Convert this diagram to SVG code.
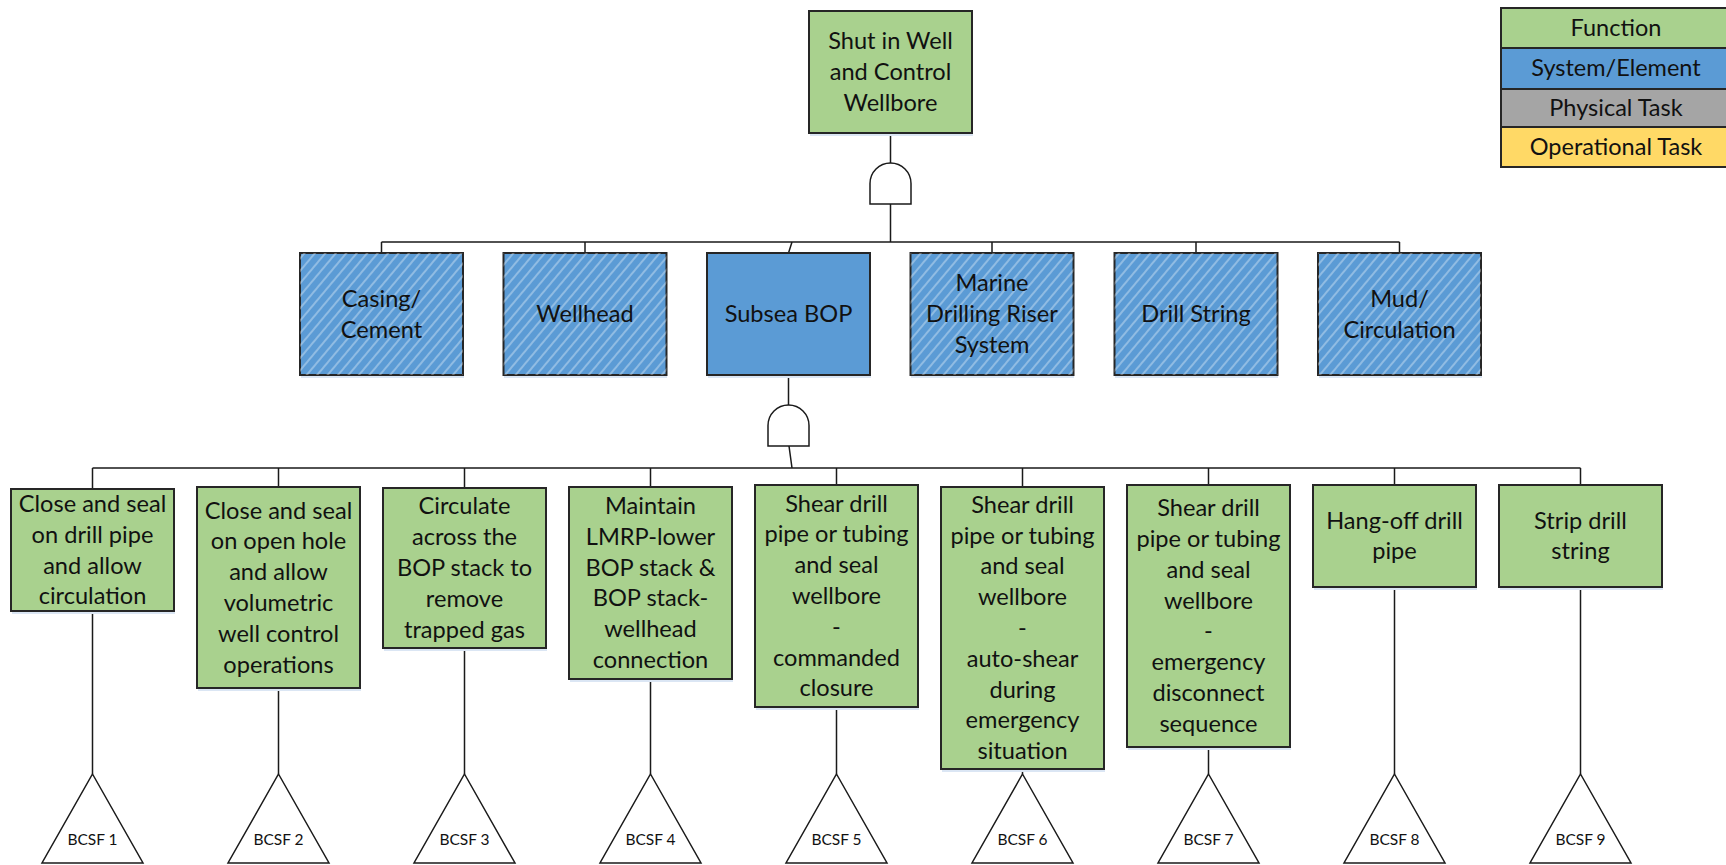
<svg xmlns="http://www.w3.org/2000/svg" width="1726" height="865" viewBox="0 0 1726 865">
<style>
.box{stroke:#262626;stroke-width:2}
.fn{fill:#A9D18E}
.sys{fill:#5B9BD5}
.hatch{fill:url(#hatch)}
.sh{fill:#dbe6f4}
.t{font-family:Lato,"Liberation Sans",sans-serif;font-size:23.6px;fill:#111;text-anchor:middle}
.lg{font-family:Lato,"Liberation Sans",sans-serif;font-size:23.5px;fill:#111;text-anchor:middle}
.tri{font-family:Lato,"Liberation Sans",sans-serif;font-size:15.5px;fill:#111;text-anchor:middle}
.ln{stroke:#1a1a1a;stroke-width:1.5;fill:none}
.gate{fill:#fff;stroke:#1a1a1a;stroke-width:1.5}
.trg{fill:#fff;stroke:#1a1a1a;stroke-width:1.5}
</style>
<defs>
<pattern id="hatch" width="8" height="8" patternUnits="userSpaceOnUse" patternTransform="rotate(40)">
<line x1="4" y1="0" x2="4" y2="8" stroke="#ffffff" stroke-opacity="0.5" stroke-width="1.3"/>
</pattern>
</defs>
<rect width="1726" height="865" fill="#fff"/>

<g id="connectors">
<path class="ln" d="M890.5,133 V163 M890.5,204 V242"/>
<path class="ln" d="M381.5,242 H1399.5 M381.5,242 V253 M585,242 V253 M792,242 L788.5,253 M992,242 V253 M1196,242 V253 M1399.5,242 V253"/>
<path class="ln" d="M788.5,375 V405 M789,446 L792,468"/>
<path class="ln" d="M92.5,468 H1580.5 M92.5,468 V489 M278.5,468 V487 M464.5,468 V488 M650.5,468 V487 M836.5,468 V485 M1022.5,468 V487 M1208.5,468 V485 M1394.5,468 V485 M1580.5,468 V485"/>
<path class="ln" d="M92.5,611 V774 M278.5,688 V774 M464.5,648 V774 M650.5,679 V774 M836.5,707 V774 M1022.5,769 V774 M1208.5,747 V774 M1394.5,587 V774 M1580.5,587 V774"/>
</g>

<g id="gate1"><path class="gate" d="M870,204 V183.5 A20.5,20.5 0 0 1 911,183.5 V204 Z"/></g>
<g id="gate2"><path class="gate" d="M768,446 V425.5 A20.5,20.5 0 0 1 809,425.5 V446 Z"/></g>

<g id="top">
<rect class="sh" x="810" y="13" width="163" height="123"/>
<rect class="box fn" x="809" y="11" width="163" height="122"/>
<text class="t" x="890.5" y="49">Shut in Well<tspan x="890.5" dy="30.8">and Control</tspan><tspan x="890.5" dy="30.8">Wellbore</tspan></text>
</g>

<g id="legend">
<rect class="box" x="1501" y="8" width="232" height="40" fill="#A9D18E"/>
<rect class="box" x="1501" y="48" width="232" height="41" fill="#5B9BD5"/>
<rect class="box" x="1501" y="89" width="232" height="38" fill="#A5A5A5"/>
<rect class="box" x="1501" y="127" width="232" height="40" fill="#FFD966"/>
<text class="lg" x="1616" y="36">Function</text>
<text class="lg" x="1616" y="76">System/Element</text>
<text class="lg" x="1616" y="116">Physical Task</text>
<text class="lg" x="1616" y="155">Operational Task</text>
</g>

<g id="casing">
<rect class="sh" x="301" y="256" width="163" height="122"/>
<rect class="box sys" x="300" y="253" width="163" height="122"/>
<rect class="hatch" x="300" y="253" width="163" height="122"/>
<text class="t" x="381.5" y="307">Casing/<tspan x="381.5" dy="30.8">Cement</tspan></text>
</g>
<g id="wellhead">
<rect class="sh" x="504" y="256" width="163" height="122"/>
<rect class="box sys" x="503.5" y="253" width="163" height="122"/>
<rect class="hatch" x="503.5" y="253" width="163" height="122"/>
<text class="t" x="585" y="322">Wellhead</text>
</g>
<g id="subsea">
<rect class="sh" x="708" y="256" width="163" height="122"/>
<rect class="box sys" x="707" y="253" width="163" height="122"/>
<text class="t" x="788.5" y="322">Subsea BOP</text>
</g>
<g id="riser">
<rect class="sh" x="911" y="256" width="163" height="122"/>
<rect class="box sys" x="910.5" y="253" width="163" height="122"/>
<rect class="hatch" x="910.5" y="253" width="163" height="122"/>
<text class="t" x="992" y="291">Marine<tspan x="992" dy="30.8">Drilling Riser</tspan><tspan x="992" dy="30.8">System</tspan></text>
</g>
<g id="drillstring">
<rect class="sh" x="1115" y="256" width="163" height="122"/>
<rect class="box sys" x="1114.5" y="253" width="163" height="122"/>
<rect class="hatch" x="1114.5" y="253" width="163" height="122"/>
<text class="t" x="1196" y="322">Drill String</text>
</g>
<g id="mud">
<rect class="sh" x="1319" y="256" width="163" height="122"/>
<rect class="box sys" x="1318" y="253" width="163" height="122"/>
<rect class="hatch" x="1318" y="253" width="163" height="122"/>
<text class="t" x="1399.5" y="307">Mud/<tspan x="1399.5" dy="30.8">Circulation</tspan></text>
</g>

<g id="f1">
<rect class="sh" x="12" y="492" width="163" height="122"/>
<rect class="box fn" x="11" y="489" width="163" height="122"/>
<text class="t" x="92.5" y="512">Close and seal<tspan x="92.5" dy="30.8">on drill pipe</tspan><tspan x="92.5" dy="30.8">and allow</tspan><tspan x="92.5" dy="30.8">circulation</tspan></text>
</g>
<g id="f2">
<rect class="sh" x="198" y="490" width="163" height="201"/>
<rect class="box fn" x="197" y="487" width="163" height="201"/>
<text class="t" x="278.5" y="518.5">Close and seal<tspan x="278.5" dy="30.8">on open hole</tspan><tspan x="278.5" dy="30.8">and allow</tspan><tspan x="278.5" dy="30.8">volumetric</tspan><tspan x="278.5" dy="30.8">well control</tspan><tspan x="278.5" dy="30.8">operations</tspan></text>
</g>
<g id="f3">
<rect class="sh" x="384" y="491" width="163" height="160"/>
<rect class="box fn" x="383" y="488" width="163" height="160"/>
<text class="t" x="464.5" y="514.4">Circulate<tspan x="464.5" dy="30.8">across the</tspan><tspan x="464.5" dy="30.8">BOP stack to</tspan><tspan x="464.5" dy="30.8">remove</tspan><tspan x="464.5" dy="30.8">trapped gas</tspan></text>
</g>
<g id="f4">
<rect class="sh" x="570" y="490" width="163" height="192"/>
<rect class="box fn" x="569" y="487" width="163" height="192"/>
<text class="t" x="650.5" y="514">Maintain<tspan x="650.5" dy="30.8">LMRP-lower</tspan><tspan x="650.5" dy="30.8">BOP stack &amp;</tspan><tspan x="650.5" dy="30.8">BOP stack-</tspan><tspan x="650.5" dy="30.8">wellhead</tspan><tspan x="650.5" dy="30.8">connection</tspan></text>
</g>
<g id="f5">
<rect class="sh" x="756" y="488" width="163" height="222"/>
<rect class="box fn" x="755" y="485" width="163" height="222"/>
<text class="t" x="836.5" y="511.6">Shear drill<tspan x="836.5" dy="30.8">pipe or tubing</tspan><tspan x="836.5" dy="30.8">and seal</tspan><tspan x="836.5" dy="30.8">wellbore</tspan><tspan x="836.5" dy="30.8">-</tspan><tspan x="836.5" dy="30.8">commanded</tspan><tspan x="836.5" dy="30.8">closure</tspan></text>
</g>
<g id="f6">
<rect class="sh" x="942" y="490" width="163" height="282"/>
<rect class="box fn" x="941" y="487" width="163" height="282"/>
<text class="t" x="1022.5" y="512.8">Shear drill<tspan x="1022.5" dy="30.8">pipe or tubing</tspan><tspan x="1022.5" dy="30.8">and seal</tspan><tspan x="1022.5" dy="30.8">wellbore</tspan><tspan x="1022.5" dy="30.8">-</tspan><tspan x="1022.5" dy="30.8">auto-shear</tspan><tspan x="1022.5" dy="30.8">during</tspan><tspan x="1022.5" dy="30.8">emergency</tspan><tspan x="1022.5" dy="30.8">situation</tspan></text>
</g>
<g id="f7">
<rect class="sh" x="1128" y="488" width="163" height="262"/>
<rect class="box fn" x="1127" y="485" width="163" height="262"/>
<text class="t" x="1208.5" y="516.2">Shear drill<tspan x="1208.5" dy="30.8">pipe or tubing</tspan><tspan x="1208.5" dy="30.8">and seal</tspan><tspan x="1208.5" dy="30.8">wellbore</tspan><tspan x="1208.5" dy="30.8">-</tspan><tspan x="1208.5" dy="30.8">emergency</tspan><tspan x="1208.5" dy="30.8">disconnect</tspan><tspan x="1208.5" dy="30.8">sequence</tspan></text>
</g>
<g id="f8">
<rect class="sh" x="1314" y="488" width="163" height="102"/>
<rect class="box fn" x="1313" y="485" width="163" height="102"/>
<text class="t" x="1394.5" y="528.6">Hang-off drill<tspan x="1394.5" dy="30.8">pipe</tspan></text>
</g>
<g id="f9">
<rect class="sh" x="1500" y="488" width="163" height="102"/>
<rect class="box fn" x="1499" y="485" width="163" height="102"/>
<text class="t" x="1580.5" y="528.6">Strip drill<tspan x="1580.5" dy="30.8">string</tspan></text>
</g>

<g id="bcsf1"><path class="trg" d="M92.5,774 L143,863 H42 Z"/><text class="tri" x="92.5" y="845">BCSF 1</text></g>
<g id="bcsf2"><path class="trg" d="M278.5,774 L329,863 H228 Z"/><text class="tri" x="278.5" y="845">BCSF 2</text></g>
<g id="bcsf3"><path class="trg" d="M464.5,774 L515,863 H414 Z"/><text class="tri" x="464.5" y="845">BCSF 3</text></g>
<g id="bcsf4"><path class="trg" d="M650.5,774 L701,863 H600 Z"/><text class="tri" x="650.5" y="845">BCSF 4</text></g>
<g id="bcsf5"><path class="trg" d="M836.5,774 L887,863 H786 Z"/><text class="tri" x="836.5" y="845">BCSF 5</text></g>
<g id="bcsf6"><path class="trg" d="M1022.5,774 L1073,863 H972 Z"/><text class="tri" x="1022.5" y="845">BCSF 6</text></g>
<g id="bcsf7"><path class="trg" d="M1208.5,774 L1259,863 H1158 Z"/><text class="tri" x="1208.5" y="845">BCSF 7</text></g>
<g id="bcsf8"><path class="trg" d="M1394.5,774 L1445,863 H1344 Z"/><text class="tri" x="1394.5" y="845">BCSF 8</text></g>
<g id="bcsf9"><path class="trg" d="M1580.5,774 L1631,863 H1530 Z"/><text class="tri" x="1580.5" y="845">BCSF 9</text></g>
</svg>
